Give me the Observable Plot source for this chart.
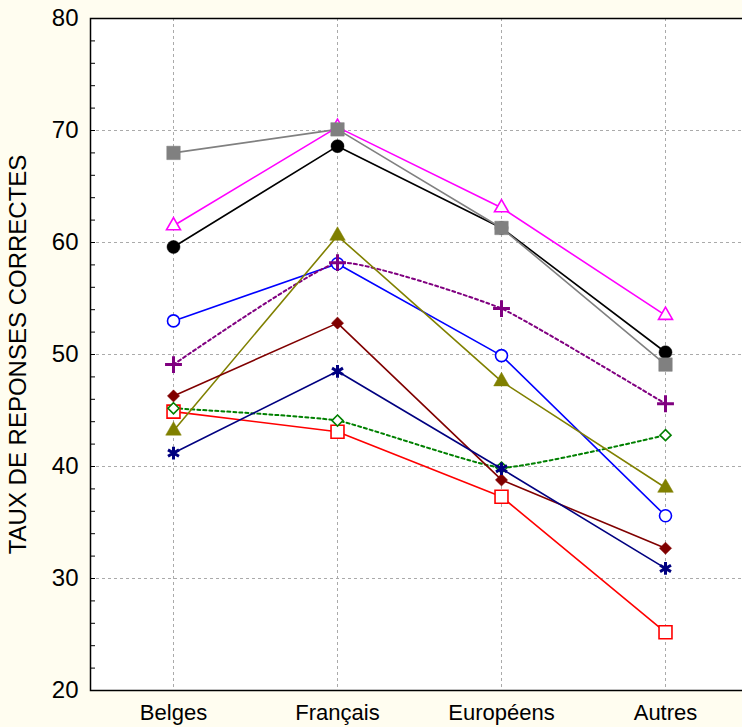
<!DOCTYPE html>
<html>
<head>
<meta charset="utf-8">
<script src="https://cdn.jsdelivr.net/npm/d3@7"></script>
<script src="https://cdn.jsdelivr.net/npm/@observablehq/plot@0.6"></script>
<style>
  html, body { margin: 0; padding: 0; background: #fffdf0; }
  #chart svg { display: block; background: #fffdf0; }
</style>
</head>
<body>
<div id="chart"></div>
<script>
// Categories (x axis)
const categories = ["Belges", "Français", "Européens", "Autres"];
const yTicks = [20, 30, 40, 50, 60, 70, 80];
const yLabel = "TAUX DE REPONSES CORRECTES";

// Series values
const serieRouge   = [44.9, 43.1, 37.3, 25.2];   // open red square
const serieVerte   = [45.2, 44.1, 39.9, 42.8];   // open green diamond, dotted
const serieBleue   = [53.0, 58.1, 49.9, 35.6];   // open blue circle
const serieViolet  = [49.1, 58.2, 54.1, 45.6];   // purple plus, dotted
const serieOlive   = [43.2, 60.6, 47.6, 38.1];   // olive filled triangle
const serieBordeau = [46.3, 52.8, 38.8, 32.7];   // dark red filled diamond
const serieMarine  = [41.2, 48.5, 39.8, 30.9];   // navy asterisk
const serieMagenta = [61.5, 70.3, 63.1, 53.5];   // open magenta triangle
const serieNoire   = [59.6, 68.6, 61.3, 50.2];   // black filled circle
const serieGrise   = [68.0, 70.1, 61.3, 49.1];   // gray filled square

// Styles (kept separate from data)
const series = [
  {values: serieRouge,   color: "#ff0000", symbol: "square",   filled: false, r: 7.3, dash: null,  curve: "linear"},
  {values: serieVerte,   color: "#008000", symbol: "diamond2", filled: false, r: 5,   dash: "3,3", curve: "cardinal"},
  {values: serieBleue,   color: "#0000ff", symbol: "circle",   filled: false, r: 6,   dash: null,  curve: "linear"},
  {values: serieViolet,  color: "#800080", symbol: "plus",     filled: true,  r: 5.5, dash: "3,3", curve: "cardinal"},
  {values: serieOlive,   color: "#808000", symbol: "triangle", filled: true,  r: 5.8, dash: null,  curve: "linear"},
  {values: serieBordeau, color: "#800000", symbol: "diamond2", filled: true,  r: 5.5, dash: null,  curve: "linear"},
  {values: serieMarine,  color: "#000080", symbol: "asterisk", filled: true,  r: 6,   dash: null,  curve: "linear"},
  {values: serieMagenta, color: "#ff00ff", symbol: "triangle", filled: false, r: 5.2, dash: null,  curve: "linear"},
  {values: serieNoire,   color: "#000000", symbol: "circle",   filled: true,  r: 6.5, dash: null,  curve: "linear"},
  {values: serieGrise,   color: "#808080", symbol: "square",   filled: true,  r: 7.6, dash: null,  curve: "linear"}
];

const marks = [
  Plot.frame({fill: "white", stroke: null}),
  Plot.gridY({ticks: [30, 40, 50, 60, 70], stroke: "#aaaaaa", strokeOpacity: 1, strokeDasharray: "3,3"}),
  Plot.gridX({stroke: "#aaaaaa", strokeOpacity: 1, strokeDasharray: "3,3"}),
  Plot.axisY({ticks: d3.range(20, 81, 2), tickSize: -5, text: null, stroke: "black", label: null}),
  Plot.axisY({ticks: yTicks, tickSize: 0, tickPadding: 12, fontSize: 24, fill: "black", label: null}),
  Plot.axisX({tickSize: 0, tickPadding: 14, fontSize: 22, fill: "black", label: null}),
  Plot.frame({stroke: "black", strokeWidth: 1.5}),
  Plot.text([yLabel], {frameAnchor: "left", textAnchor: "middle", rotate: -90, dx: -72, fontSize: 24, fill: "black", text: d => d})
];

for (const s of series) {
  const rows = categories.map((c, i) => ({cat: c, v: s.values[i]}));
  marks.push(Plot.line(rows, {
    x: "cat", y: "v", stroke: s.color, strokeWidth: s.dash ? 2 : 1.6,
    strokeDasharray: s.dash, curve: s.curve, tension: 0.6
  }));
}
for (const s of series) {
  const rows = categories.map((c, i) => ({cat: c, v: s.values[i]}));
  const lineSym = s.symbol === "plus" || s.symbol === "asterisk";
  marks.push(Plot.dot(rows, {
    x: "cat", y: "v", symbol: () => s.symbol, r: s.r,
    fill: lineSym ? "none" : (s.filled ? s.color : "white"),
    stroke: s.color,
    strokeWidth: lineSym ? 3 : (s.filled ? 0.5 : 1.6)
  }));
}

const chart = Plot.plot({
  width: 742,
  height: 727,
  marginLeft: 90,
  marginTop: 18,
  marginBottom: 37,
  marginRight: -2,
  style: {fontFamily: "'Liberation Sans', Arial, sans-serif", background: "#fffdf0", color: "black"},
  x: {type: "point", domain: categories, range: [173, 665], padding: 0, axis: null},
  y: {domain: [20, 80], axis: null},
  symbol: {type: "identity"},
  marks
});
document.getElementById("chart").appendChild(chart);
</script>
</body>
</html>
